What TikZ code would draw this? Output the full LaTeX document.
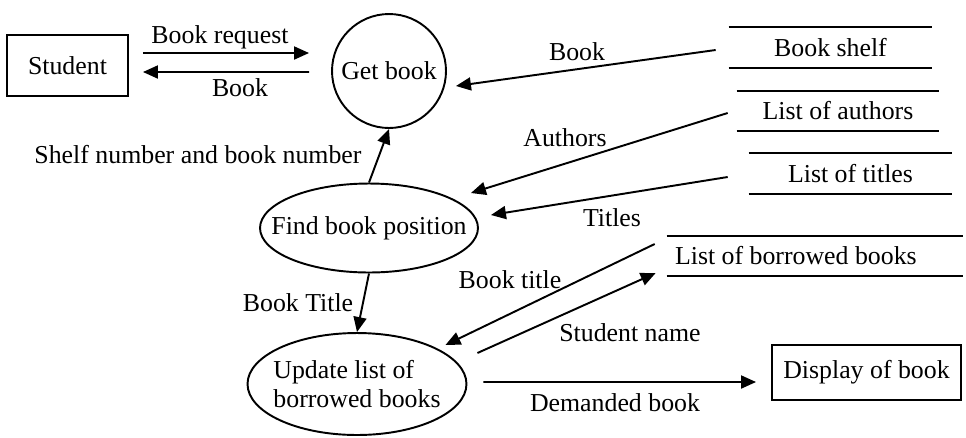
\documentclass[tikz,border=0pt]{standalone}
\usepackage{fontspec}
\setmainfont{Liberation Serif}
\usetikzlibrary{shapes.geometric}
\usetikzlibrary{arrows.meta}
\tikzset{   entity/.style = {rectangle, draw, line width=1.1pt, inner sep=0pt},
            process/.style = {ellipse, draw, line width=1.1pt, inner xsep=-0.5cm, inner ysep=0pt},
            store/.style = {rectangle, inner xsep=0.16cm, inner ysep=0pt, minimum height=0.8cm},
            flow/.style = {line width=1.1pt, -{Triangle[length=0.3cm,width=0.26cm]}}}

\begin{document}
\begin{tikzpicture}[x=0.02cm, y=-0.02cm, font=\fontsize{14.7}{16}\selectfont]
                        \useasboundingbox (0,0) rectangle (966,437);
                        % external entities and processes
                        \node[entity, minimum width=2.42cm, minimum height=1.22cm] (st) at (67.5,65.5) {Student};
                        \node[entity, minimum width=3.78cm, minimum height=1.1cm] (db) at (866.5,372.5) {Display of book};
                        \node[circle, draw, line width=1.1pt, inner sep=0pt, minimum size=2.28cm] (gb) at (389,71) {Get book};
                        \node[process, minimum width=4.36cm, minimum height=1.78cm] (fbp) at (369,228) {Find book position};
                        \node[process, minimum width=4.38cm, minimum height=2.04cm, align=left] (ub) at (357,384) {Update list of\\borrowed books};
                        % data stores
                        \node[store, minimum width=4.06cm] (bs) at (830.5,47.5) {Book shelf};
                        \node[store, minimum width=4.04cm] (la) at (838,111) {List of authors};
                        \node[store, minimum width=4.06cm] (lt) at (850.5,173.5) {List of titles};
                        \node[store, text width=5.6cm, align=flush left] (lb) at (815,256) {List of borrowed books};
                        \foreach \s in {bs,la,lt,lb}
                          \draw[line width=1.1pt] (\s.north west) -- (\s.north east) (\s.south west) -- (\s.south east);
                        % flows
                        \draw[flow] ([shift={(14,-12.5)}]st.east) -- ([shift={(-22,-18)}]gb.west);
                        \draw[flow] ([shift={(-22,1)}]gb.west) -- ([shift={(14,6.5)}]st.east);
                        \draw[flow] ([shift={(-13,2.5)}]bs.west) -- ([shift={(9,15)}]gb.east);
                        \draw[flow] ([shift={(-9,2)}]la.west) -- ([shift={(-8,-35)}]fbp.east);
                        \draw[flow] ([shift={(-21,3.5)}]lt.west) -- ([shift={(12,-13)}]fbp.east);
                        \draw[flow] (fbp.north) -- (gb.south);
                        \draw[flow] (fbp.south) -- (ub.north);
                        \draw[flow] ([shift={(-12,-12)}]lb.west) -- ([shift={(-22,-39)}]ub.east);
                        \draw[flow] ([shift={(10,-31)}]ub.east) -- ([shift={(-11,17)}]lb.west);
                        \draw[flow] ([shift={(16,-2)}]ub.east) -- ([shift={(-15,9.5)}]db.west);
                        % flow labels
                        \node (lreq) at (220,37) {Book request};
                        \node (lbk) at (240,88) {Book};
                        \node (lshelf) at (577,52) {Book};
                        \node (lpos) at (198,155) {Shelf number and book number};
                        \node (lauth) at (565,138) {Authors};
                        \node (ltit) at (612,218) {Titles};
                        \node (lbtitle) at (510,280) {Book title};
                        \node (lBtitle) at (298,303) {Book Title};
                        \node (lname) at (630,333) {Student name};
                        \node (ldem) at (615,403) {Demanded book};
\end{tikzpicture}
\end{document}
